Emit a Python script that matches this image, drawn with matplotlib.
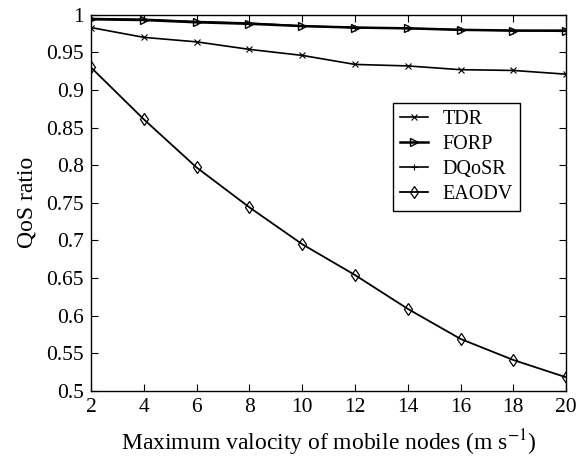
import matplotlib.pyplot as plt
import numpy as np

# data
speed = [2, 4, 6, 8, 10, 12, 14, 16, 18, 20]
tdr = [0.983, 0.970, 0.964, 0.954, 0.946, 0.934, 0.932, 0.927, 0.926, 0.921]
forp = [0.994, 0.993, 0.990, 0.988, 0.985, 0.983, 0.982, 0.980, 0.979, 0.979]
dqosr = [0.995, 0.994, 0.991, 0.989, 0.985, 0.983, 0.982, 0.980, 0.979, 0.978]
eaodv = [0.930, 0.861, 0.797, 0.744, 0.695, 0.654, 0.609, 0.569, 0.541, 0.518]

plt.rcParams['font.family'] = ['Liberation Serif', 'DejaVu Serif']
plt.rcParams['mathtext.fontset'] = 'stix'

fig = plt.figure(figsize=(5.76, 4.62), dpi=100)
ax = fig.add_axes([0.158, 0.154, 0.825, 0.814])

ax.plot(speed, tdr, 'k-', marker='x', ms=4, mew=0.8, lw=1.2, label='TDR')
ax.plot(speed, forp, 'k-', marker='>', ms=6, mfc='none', mew=1.0, lw=1.8, label='FORP')
ax.plot(speed, dqosr, 'k-', marker='+', ms=5, mew=0.8, lw=1.2, label='DQoSR')
ax.plot(speed, eaodv, 'k-', marker='d', ms=6, mfc='none', mew=0.9, lw=1.3, label='EAODV')

ax.set_xlim(2, 20)
ax.set_ylim(0.5, 1.0)
ax.set_xticks(np.arange(2, 21, 2))
ax.set_yticks(np.arange(0.5, 1.001, 0.05))
ax.set_yticklabels(['0.5', '0.55', '0.6', '0.65', '0.7', '0.75', '0.8', '0.85', '0.9', '0.95', '1'])
ax.tick_params(direction='in', top=True, right=True, labelsize=15.5, length=5, pad=5)
for s in ax.spines.values():
    s.set_linewidth(1.0)

ax.set_xlabel('Maximum valocity of mobile nodes (m s$^{-1}$)', fontsize=17, labelpad=8)
ax.set_ylabel('QoS ratio', fontsize=17, labelpad=6)

leg = ax.legend(loc='upper left', bbox_to_anchor=(0.636, 0.766), fontsize=14.5,
                frameon=True, fancybox=False, edgecolor='black', framealpha=1,
                handlelength=1.4, handletextpad=0.7, borderpad=0.35, labelspacing=0.3,
                borderaxespad=0)
leg.get_frame().set_linewidth(1.0)

plt.savefig('out.png', dpi=100)
